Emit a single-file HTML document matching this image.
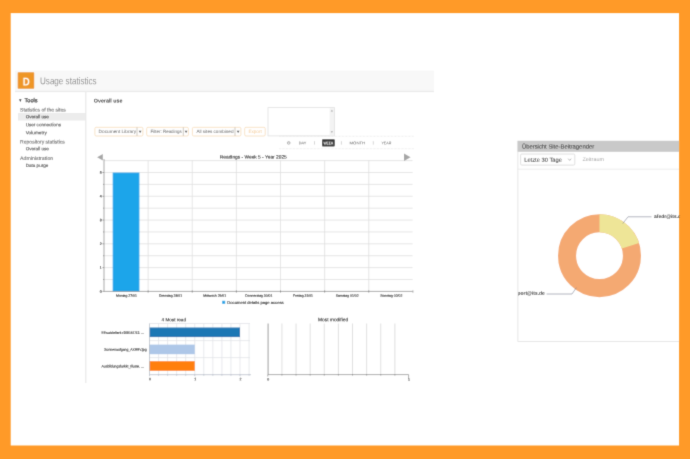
<!DOCTYPE html>
<html>
<head>
<meta charset="utf-8">
<title>Usage statistics</title>
<style>
html,body{margin:0;padding:0;}
body{width:690px;height:459px;overflow:hidden;background:#ff9a28;font-family:"Liberation Sans",sans-serif;position:relative;}
#stage{position:absolute;left:0;top:0;width:690px;height:459px;display:block;will-change:transform;}
svg text{font-family:"Liberation Sans",sans-serif;text-rendering:geometricPrecision;transform-box:fill-box;transform-origin:center;transform:rotate(0.05deg);}
</style>
</head>
<body>
<svg id="stage" width="690" height="459" viewBox="0 0 690 459">
<defs>
<clipPath id="paperclip"><rect x="10.7" y="13.1" width="668.35" height="432.4"/></clipPath>
<filter id="soft" x="0" y="0" width="690" height="459" filterUnits="userSpaceOnUse"><feConvolveMatrix order="3" kernelMatrix="1 6 1 6 36 6 1 6 1" divisor="64" edgeMode="duplicate" preserveAlpha="false"/></filter>
</defs>
<g filter="url(#soft)">
<rect x="10.7" y="13.1" width="668.35" height="432.4" fill="#ffffff"/>
<g clip-path="url(#paperclip)">
<rect x="15" y="70.7" width="419" height="20.3" fill="#f8f8f8"/>
<rect x="15" y="90.8" width="419" height="1.3" fill="#ebebeb"/>
<rect x="17.7" y="72.2" width="16.5" height="16.6" rx="0.8" fill="#ee9628"/>
<text x="22.7" y="85.5" font-size="11.3" fill="#fffaf0" textLength="7" lengthAdjust="spacingAndGlyphs" font-weight="bold">D</text>
<text x="40" y="84.3" font-size="9.9" fill="#8f8f8f" textLength="56.6" lengthAdjust="spacingAndGlyphs">Usage statistics</text>
<rect x="18" y="113" width="67.6" height="7.5" fill="#ececec"/>
<path d="M19.1 99.3H21.5L20.3 101.9Z" fill="#222"/>
<text x="24.5" y="102.3" font-size="6" fill="#2a2a2a" textLength="13" lengthAdjust="spacingAndGlyphs" stroke="#2a2a2a" stroke-width="0.2">Tools</text>
<text x="20.1" y="111.6" font-size="5.05" fill="#6e6e6e" textLength="45.6" lengthAdjust="spacingAndGlyphs" stroke="#6e6e6e" stroke-width="0.1">Statistics of the sites</text>
<text x="25.7" y="118.3" font-size="4.7" fill="#333" textLength="23.2" lengthAdjust="spacingAndGlyphs" stroke="#333" stroke-width="0.1">Overall use</text>
<text x="25.7" y="126.3" font-size="4.7" fill="#444" textLength="35.3" lengthAdjust="spacingAndGlyphs" stroke="#444" stroke-width="0.1">User connections</text>
<text x="25.7" y="134.3" font-size="4.7" fill="#444" textLength="21.1" lengthAdjust="spacingAndGlyphs" stroke="#444" stroke-width="0.1">Volumetry</text>
<text x="20.1" y="143.6" font-size="5.05" fill="#6e6e6e" textLength="44.8" lengthAdjust="spacingAndGlyphs" stroke="#6e6e6e" stroke-width="0.1">Repository statistics</text>
<text x="25.7" y="150.3" font-size="4.7" fill="#444" textLength="23.2" lengthAdjust="spacingAndGlyphs" stroke="#444" stroke-width="0.1">Overall use</text>
<text x="20.1" y="159.9" font-size="5.05" fill="#6e6e6e" textLength="33.1" lengthAdjust="spacingAndGlyphs" stroke="#6e6e6e" stroke-width="0.1">Administration</text>
<text x="25.7" y="167" font-size="4.7" fill="#444" textLength="22.6" lengthAdjust="spacingAndGlyphs" stroke="#444" stroke-width="0.1">Data purge</text>
<rect x="85.4" y="92" width="0.9" height="291" fill="#e2e2e2"/>
<text x="93.8" y="102.6" font-size="5.4" fill="#3a3a3a" textLength="28.7" lengthAdjust="spacingAndGlyphs" font-weight="bold">Overall use</text>
<rect x="94.9" y="127.3" width="48.000000000000014" height="8.7" rx="1.3" fill="#fff" stroke="#f5dab6" stroke-width="0.75"/><path d="M137 127.4V135.9" stroke="#b9b2a8" stroke-width="0.7"/><path d="M138.75 130.8H141.55L140.15 133Z" fill="#555"/>
<text x="98.6" y="133" font-size="4.6" fill="#666" textLength="37.6" lengthAdjust="spacingAndGlyphs">Document Library</text>
<rect x="146.70000000000002" y="127.3" width="41.7" height="8.7" rx="1.3" fill="#fff" stroke="#f5dab6" stroke-width="0.75"/><path d="M183.3 127.4V135.9" stroke="#b9b2a8" stroke-width="0.7"/><path d="M184.65 130.8H187.45000000000002L186.05 133Z" fill="#555"/>
<text x="150.5" y="133" font-size="4.6" fill="#666" textLength="31.3" lengthAdjust="spacingAndGlyphs">Filter: Readings</text>
<rect x="192.4" y="127.3" width="48.500000000000014" height="8.7" rx="1.3" fill="#fff" stroke="#f5dab6" stroke-width="0.75"/><path d="M235 127.4V135.9" stroke="#b9b2a8" stroke-width="0.7"/><path d="M236.75 130.8H239.55L238.15 133Z" fill="#555"/>
<text x="196.4" y="133" font-size="4.6" fill="#666" textLength="37.1" lengthAdjust="spacingAndGlyphs">All sites combined</text>
<rect x="244.70000000000002" y="127.3" width="20.50000000000001" height="8.7" rx="1.3" fill="#fff" stroke="#f5dab6" stroke-width="0.75"/>
<text x="248.4" y="133" font-size="4.7" fill="#f4c994" textLength="13.4" lengthAdjust="spacingAndGlyphs">Export</text>
<rect x="268" y="107.6" width="66.4" height="28.3" fill="#fff" stroke="#e0e0e0" stroke-width="0.8"/>
<rect x="329.6" y="108.1" width="4.4" height="27.3" fill="#f3f3f3"/>
<path d="M330.7 111.6H333.1L331.9 109.8Z" fill="#aaa"/><path d="M330.7 131.2H333.1L331.9 133Z" fill="#aaa"/>
<path d="M279 136.3H414M279 148.7H414" stroke="#e2e2e2" stroke-width="0.7" stroke-dasharray="0.7 0.7"/>
<circle cx="288.7" cy="142.9" r="1.35" fill="none" stroke="#8c8c8c" stroke-width="0.65"/><path d="M288.7 142.1V142.9H289.4" fill="none" stroke="#8c8c8c" stroke-width="0.4"/>
<text x="298.8" y="144.2" font-size="3.8" fill="#555" textLength="7.6" lengthAdjust="spacingAndGlyphs">DAY</text>
<rect x="322" y="139.2" width="12.8" height="7.2" rx="0.9" fill="#333"/>
<text x="323.4" y="144.4" font-size="4.2" fill="#fff" textLength="10" lengthAdjust="spacingAndGlyphs" font-weight="bold">WEEK</text>
<text x="349.5" y="144.2" font-size="3.8" fill="#555" textLength="15.7" lengthAdjust="spacingAndGlyphs">MONTH</text>
<text x="381.4" y="144.2" font-size="3.8" fill="#555" textLength="9.9" lengthAdjust="spacingAndGlyphs">YEAR</text>
<path d="M314.5 141.2V144.6M341.4 141.2V144.6M373.3 141.2V144.6" stroke="#aaa" stroke-width="0.5"/>
<g stroke="#dedede" stroke-width="0.75" fill="none"><path d="M104.0 279.51H412.6M104.0 267.62H412.6M104.0 255.73H412.6M104.0 243.84H412.6M104.0 231.95H412.6M104.0 220.06H412.6M104.0 208.17H412.6M104.0 196.28H412.6M104.0 184.39H412.6M104.0 172.50H412.6M104.0 160.61H412.6"/><path d="M148.13 160.5V291.4M192.26 160.5V291.4M236.39 160.5V291.4M280.52 160.5V291.4M324.65 160.5V291.4M368.78 160.5V291.4"/></g>
<rect x="112.7" y="172.60" width="26.7" height="118.80" fill="#1aa5ea"/>
<g stroke="#707070" stroke-width="0.6" fill="none"><path d="M104.0 159V291.4H412.6"/><path d="M102.4 291.40H104.0M102.4 267.62H104.0M102.4 243.84H104.0M102.4 220.06H104.0M102.4 196.28H104.0M102.4 172.50H104.0M103.0 279.51H104.0M103.0 255.73H104.0M103.0 231.95H104.0M103.0 208.17H104.0M103.0 184.39H104.0M148.13 290.4V292.7M192.26 290.4V292.7M236.39 290.4V292.7M280.52 290.4V292.7M324.65 290.4V292.7M368.78 290.4V292.7M412.91 290.4V292.7"/></g>
<text x="101.6" y="292.65" font-size="3.5" fill="#222" text-anchor="end" stroke="#222" stroke-width="0.15">0</text>
<text x="101.6" y="268.87" font-size="3.5" fill="#222" text-anchor="end" stroke="#222" stroke-width="0.15">1</text>
<text x="101.6" y="245.09" font-size="3.5" fill="#222" text-anchor="end" stroke="#222" stroke-width="0.15">2</text>
<text x="101.6" y="221.31" font-size="3.5" fill="#222" text-anchor="end" stroke="#222" stroke-width="0.15">3</text>
<text x="101.6" y="197.53" font-size="3.5" fill="#222" text-anchor="end" stroke="#222" stroke-width="0.15">4</text>
<text x="101.6" y="173.75" font-size="3.5" fill="#222" text-anchor="end" stroke="#222" stroke-width="0.15">5</text>
<text x="126.47" y="296.7" font-size="3.42" fill="#222" text-anchor="middle" stroke="#222" stroke-width="0.12">Montag 27/01</text>
<text x="170.59" y="296.7" font-size="3.42" fill="#222" text-anchor="middle" stroke="#222" stroke-width="0.12">Dienstag 28/01</text>
<text x="214.72" y="296.7" font-size="3.42" fill="#222" text-anchor="middle" stroke="#222" stroke-width="0.12">Mittwoch 29/01</text>
<text x="258.86" y="296.7" font-size="3.42" fill="#222" text-anchor="middle" stroke="#222" stroke-width="0.12">Donnerstag 30/01</text>
<text x="302.99" y="296.7" font-size="3.42" fill="#222" text-anchor="middle" stroke="#222" stroke-width="0.12">Freitag 31/01</text>
<text x="347.12" y="296.7" font-size="3.42" fill="#222" text-anchor="middle" stroke="#222" stroke-width="0.12">Samstag 01/02</text>
<text x="391.25" y="296.7" font-size="3.42" fill="#222" text-anchor="middle" stroke="#222" stroke-width="0.12">Sonntag 02/02</text>
<text x="219.8" y="158.5" font-size="4.8" fill="#222" textLength="67" lengthAdjust="spacingAndGlyphs" stroke="#222" stroke-width="0.1">Readings - Week 5 - Year 2025</text>
<path d="M97.1 157.3L102.8 154.1V160.5Z" fill="#a6a6a6"/><path d="M410.6 157.2L404 153.5V160.9Z" fill="#a6a6a6"/>
<rect x="222.2" y="300.8" width="3" height="3" fill="#1fa4e6"/>
<text x="227.3" y="304.1" font-size="4.15" fill="#222" textLength="56.3" lengthAdjust="spacingAndGlyphs" stroke="#222" stroke-width="0.1">Document details page access</text>
<text x="173.8" y="321.3" font-size="4.65" fill="#222" text-anchor="middle" stroke="#222" stroke-width="0.1">4 Most read</text>
<g stroke="#dfe1e6" stroke-width="0.7" fill="none"><path d="M158.55 323.5V374.7M167.60 323.5V374.7M176.65 323.5V374.7M185.70 323.5V374.7M194.75 323.5V374.7M203.80 323.5V374.7M212.85 323.5V374.7M221.90 323.5V374.7M230.95 323.5V374.7M240.00 323.5V374.7M249.05 323.5V374.7"/><path d="M149.5 323.5H250M149.5 340.6H250M149.5 357.6H250"/></g>
<rect x="149.5" y="327.5" width="90.5" height="9.6" fill="#1f77b4"/>
<rect x="149.5" y="344.6" width="45.25" height="9.6" fill="#aec7e8"/>
<rect x="149.5" y="361.2" width="45.25" height="9.6" fill="#ff7f0e"/>
<g stroke="#a3abb8" stroke-width="0.6" fill="none"><path d="M149.5 323.5V374.7H251"/><path d="M149.50 374.7V376.2M158.55 374.7V375.7M167.60 374.7V375.7M176.65 374.7V375.7M185.70 374.7V375.7M194.75 374.7V376.2M203.80 374.7V375.7M212.85 374.7V375.7M221.90 374.7V375.7M230.95 374.7V375.7M240.00 374.7V376.2M249.05 374.7V375.7"/></g>
<text x="150.0" y="380.2" font-size="3.5" fill="#222" text-anchor="middle" stroke="#222" stroke-width="0.12">0</text>
<text x="195.25" y="380.2" font-size="3.5" fill="#222" text-anchor="middle" stroke="#222" stroke-width="0.12">1</text>
<text x="240.5" y="380.2" font-size="3.5" fill="#222" text-anchor="middle" stroke="#222" stroke-width="0.12">2</text>
<text x="144" y="333.9" font-size="3.7" fill="#222" text-anchor="end" textLength="42.5" lengthAdjust="spacingAndGlyphs" stroke="#222" stroke-width="0.1">Einsatzleiterk r20915T/12. ...</text>
<text x="146.6" y="350.7" font-size="3.7" fill="#222" text-anchor="end" textLength="42.3" lengthAdjust="spacingAndGlyphs" stroke="#222" stroke-width="0.1">Sonnenaufgang_AXR9V.jpg</text>
<text x="144" y="367.5" font-size="3.7" fill="#222" text-anchor="end" textLength="42.5" lengthAdjust="spacingAndGlyphs" stroke="#222" stroke-width="0.1">Ausbildungsfarkkt_Illuste. ...</text>
<text x="333.1" y="321.3" font-size="4.85" fill="#222" text-anchor="middle" stroke="#222" stroke-width="0.1">Most modified</text>
<path d="M281.92 323.5V374.5M296.04 323.5V374.5M310.16 323.5V374.5M324.28 323.5V374.5M338.40 323.5V374.5M352.52 323.5V374.5M366.64 323.5V374.5M380.76 323.5V374.5M394.88 323.5V374.5" stroke="#cfcfcf" stroke-width="0.65" fill="none"/>
<path d="M268.1 323.5V374.6" stroke="#999" stroke-width="0.95" fill="none"/>
<g stroke="#888" stroke-width="0.7" fill="none"><path d="M267.8 374.6H408.6V378M267.8 374.6V376.5"/><path d="M281.92 374V375.6M296.04 374V375.6M310.16 374V375.6M324.28 374V375.6M338.40 374V375.6M352.52 374V375.6M366.64 374V375.6M380.76 374V375.6M394.88 374V375.6"/></g>
<text x="268.2" y="380.4" font-size="3.5" fill="#222" text-anchor="middle" stroke="#222" stroke-width="0.12">0</text>
<text x="408.9" y="380.8" font-size="3.5" fill="#222" text-anchor="middle" stroke="#222" stroke-width="0.12">1</text>
<rect x="517.9" y="141" width="170" height="200.4" fill="#fff" stroke="#e0e0e0" stroke-width="0.8"/>
<rect x="517.6" y="141" width="170" height="10.8" fill="#c9c9c9"/>
<path d="M517.5 169.2H690" stroke="#e9e9e9" stroke-width="0.8"/>
<text x="521.9" y="148.6" font-size="5.85" fill="#444" textLength="72.3" lengthAdjust="spacingAndGlyphs" stroke="#444" stroke-width="0.08">Übersicht Site-Beitragender</text>
<rect x="520.6" y="154" width="54.2" height="11.1" rx="1.2" fill="#fff" stroke="#d8d8d8" stroke-width="0.8"/>
<text x="524.2" y="161.7" font-size="5.8" fill="#333" textLength="37.8" lengthAdjust="spacingAndGlyphs" stroke="#333" stroke-width="0.05">Letzte 30 Tage</text>
<path d="M568.2 158.7L569.7 160.4L571.2 158.7" fill="none" stroke="#888" stroke-width="0.6"/>
<text x="582.5" y="160.9" font-size="5.2" fill="#a6a6a6" textLength="21.5" lengthAdjust="spacingAndGlyphs">Zeitraum</text>
<g transform="translate(599.5 255.7)"><circle r="32.45" fill="none" stroke="#f4a972" stroke-width="18.10"/><path d="M0 -41.5A41.5 41.5 0 0 1 39.54 -12.62L22.29 -7.11A23.4 23.4 0 0 0 0 -23.4Z" fill="#eee597"/></g>
<g stroke="#727889" stroke-width="0.55" fill="none"><path d="M622.8 223.5L628 216.8H651.5"/><path d="M576.3 287.7L572 294H546.6"/></g>
<text x="654.1" y="217.8" font-size="4.95" fill="#333" font-weight="bold">afedr@its.de</text>
<clipPath id="pc"><rect x="518.3" y="152" width="172" height="189"/></clipPath><g clip-path="url(#pc)"><text x="544.8" y="294.8" font-size="4.95" fill="#333" text-anchor="end" font-weight="bold">support@its.de</text></g>
</g>
</g>
</svg>
</body>
</html>
